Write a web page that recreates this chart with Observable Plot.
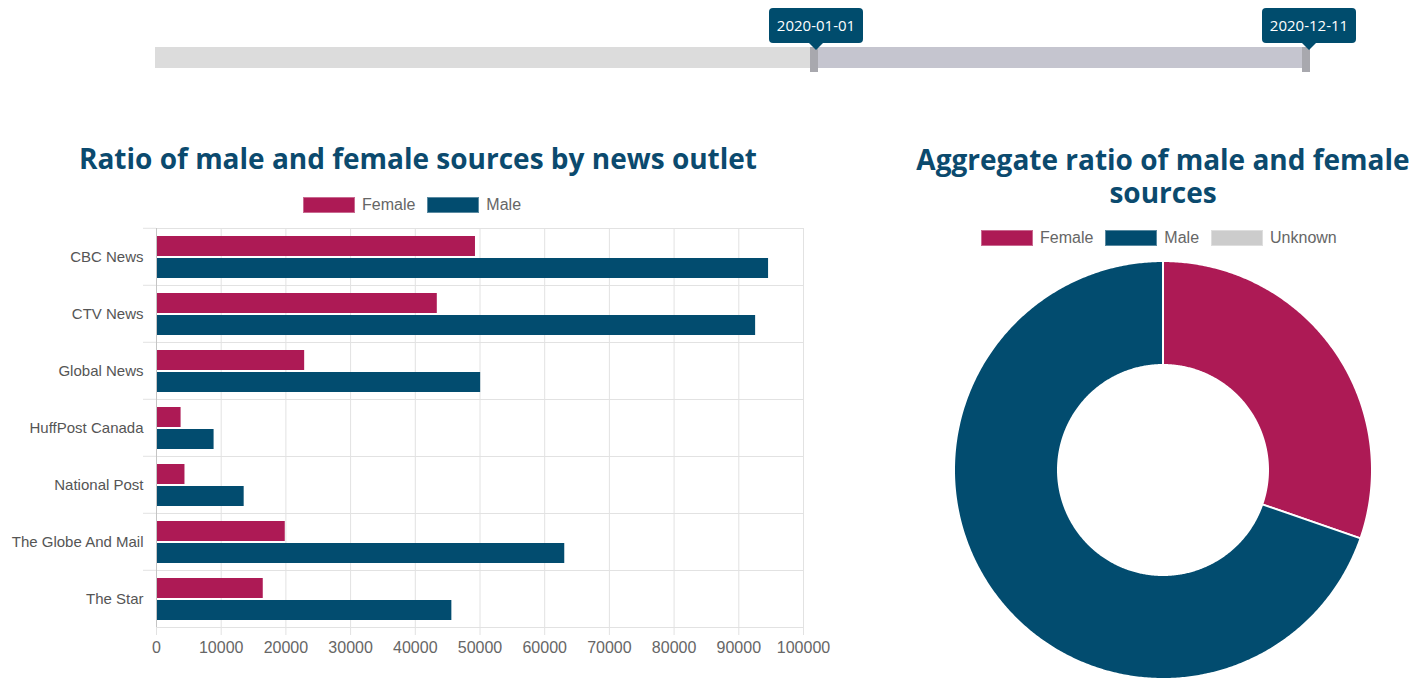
<!DOCTYPE html>
<html>
<head>
<meta charset="utf-8">
<script src="https://cdn.jsdelivr.net/npm/d3@7"></script>
<script src="https://cdn.jsdelivr.net/npm/@observablehq/plot@0.6"></script>
<style>
  html, body { margin: 0; padding: 0; }
  body { width: 1426px; height: 679px; overflow: hidden; background: #fff; position: relative;
         font-family: "Liberation Sans", Arial, sans-serif; }
  .abs { position: absolute; }
  .title { font-family: "Open Sans", sans-serif; font-weight: 700; color: #0b4a6e; text-align: center;
           font-size: 28px; line-height: 32px; white-space: nowrap; }
  .legend { display: flex; align-items: center; font-size: 16px; color: #666; white-space: nowrap; }
  .legend .sw { width: 50px; height: 14px; border: 1px solid rgba(255,255,255,0.35); box-sizing: content-box; margin-right: 7px; }
  .legend .lab { margin-right: 12px; }
  .track { background: #dcdcdc; }
  .sel { background: #c5c5cf; }
  .handle { background: #a8a8ae; }
  .tip { background: #004c6d; color: #fff; font-family: "Open Sans", sans-serif; font-size: 15px;
         border-radius: 4px; text-align: center; line-height: 35px; }
  .tip::after { content: ""; position: absolute; left: 50%; bottom: -7px; margin-left: -7px;
         border-left: 7px solid transparent; border-right: 7px solid transparent; border-top: 7px solid #004c6d; }
</style>
</head>
<body>
<div id="slider"></div>
<div id="barTitle" class="abs title" style="left:0;top:142px;width:836px;"></div>
<div id="barLegend" class="abs legend" style="left:303px;top:196px;"></div>
<div id="bar" class="abs" style="left:0;top:215px;"></div>
<div id="donutTitle1" class="abs title" style="left:863px;top:143px;width:600px;"></div>
<div id="donutTitle2" class="abs title" style="left:863px;top:176px;width:600px;"></div>
<div id="donutLegend" class="abs legend" style="left:981px;top:229px;"></div>
<div id="donut" class="abs" style="left:943px;top:250px;"></div>
<script>
// ---------- data ----------
const outlets = ["CBC News", "CTV News", "Global News", "HuffPost Canada", "National Post", "The Globe And Mail", "The Star"];
const femaleCounts = [49300, 43400, 22900, 3800, 4400, 19900, 16500];
const maleCounts   = [94600, 92600, 50100, 8900, 13550, 63100, 45650];
const genders = ["Female", "Male", "Unknown"];
const genderColors = ["#ad1a55", "#024c6f", "#cccccc"];
const xTicks = [0, 10000, 20000, 30000, 40000, 50000, 60000, 70000, 80000, 90000, 100000];
const dateRange = ["2020-01-01", "2020-12-11"];
const barTitle = "Ratio of male and female sources by news outlet";
const donutTitleLines = ["Aggregate ratio of male and female", "sources"];
const unknownTotal = 0;

// ---------- slider (date range) ----------
const slider = document.getElementById("slider");
slider.innerHTML = `
  <div class="abs track" style="left:155px;top:47px;width:1155px;height:21px;"></div>
  <div class="abs sel" style="left:813px;top:47px;width:493px;height:21px;"></div>
  <div class="abs handle" style="left:810px;top:47px;width:8px;height:25px;"></div>
  <div class="abs handle" style="left:1302px;top:47px;width:8px;height:25px;"></div>
  <div class="abs tip" style="left:769px;top:8px;width:94px;height:35px;">${dateRange[0]}</div>
  <div class="abs tip" style="left:1262px;top:8px;width:94px;height:35px;">${dateRange[1]}</div>`;

// ---------- titles & legends ----------
document.getElementById("barTitle").textContent = barTitle;
document.getElementById("donutTitle1").textContent = donutTitleLines[0];
document.getElementById("donutTitle2").textContent = donutTitleLines[1];
function legend(el, names) {
  el.innerHTML = names.map(n => {
    const c = genderColors[genders.indexOf(n)];
    return `<div class="sw" style="background:${c}"></div><div class="lab">${n}</div>`;
  }).join("");
}
legend(document.getElementById("barLegend"), ["Female", "Male"]);
legend(document.getElementById("donutLegend"), genders);

// ---------- bar chart ----------
const rows = outlets.flatMap((o, i) => [
  {outlet: o, gender: "Female", value: femaleCounts[i]},
  {outlet: o, gender: "Male", value: maleCounts[i]}
]);
const barH = 448, barMT = 11, barMB = 35;
const halfBand = (barH - barMT - barMB) / outlets.length / 2;
const bar = Plot.plot({
  width: 840, height: barH,
  marginLeft: 156, marginRight: 37, marginTop: barMT, marginBottom: barMB,
  style: {fontFamily: "Liberation Sans, Arial, sans-serif", fontSize: "15px", color: "#666", background: "transparent"},
  x: {domain: [0, 100000], label: null},
  fy: {domain: outlets, padding: 0, label: null},
  y: {domain: ["Female", "Male"], paddingInner: 0.1, paddingOuter: 0.3, axis: null},
  color: {domain: genders, range: genderColors},
  marks: [
    Plot.gridX(xTicks, {stroke: "#e2e2e2", strokeOpacity: 1}),
    Plot.frame({stroke: "#e2e2e2"}),
    Plot.barX(rows, {fy: "outlet", y: "gender", x: "value", fill: "gender"}),
    Plot.ruleX([0], {stroke: "#c4c4c4"}),
    Plot.axisX({ticks: xTicks, tickSize: 8, tickPadding: 6, tickFormat: d => String(d), stroke: "#e2e2e2", fill: "#666", fontSize: 16, label: null}),
    Plot.axisFy({anchor: "left", tickSize: 13, tickFormat: () => "", dy: -halfBand, stroke: "#e2e2e2", strokeOpacity: 1, label: null}),
    Plot.axisFy({anchor: "left", tickSize: 0, tickPadding: 13, fill: "#555", fontSize: 15, label: null})
  ]
});
document.getElementById("bar").appendChild(bar);

// ---------- donut chart ----------
const totals = [d3.sum(femaleCounts), d3.sum(maleCounts), unknownTotal];
const grand = d3.sum(totals);
const R = 209 / 220, r = 105 / 220;
const arcPts = [];
let acc = 0;
genders.forEach((g, i) => {
  const a0 = acc / grand * 2 * Math.PI;
  acc += totals[i];
  const a1 = acc / grand * 2 * Math.PI;
  if (a1 <= a0) return;
  const n = Math.max(2, Math.ceil((a1 - a0) / (Math.PI / 360)));
  for (let k = 0; k <= n; k++) {
    const t = a0 + (a1 - a0) * k / n;
    arcPts.push({gender: g, ox: R * Math.sin(t), oy: R * Math.cos(t), ix: r * Math.sin(t), iy: r * Math.cos(t)});
  }
});
const donut = Plot.plot({
  width: 440, height: 440, margin: 0,
  style: {background: "transparent"},
  x: {domain: [-1, 1], axis: null},
  y: {domain: [-1, 1], axis: null},
  color: {domain: genders, range: genderColors},
  marks: [
    Plot.area(arcPts, {x1: "ix", y1: "iy", x2: "ox", y2: "oy", z: "gender", fill: "gender", stroke: "#fff", strokeWidth: 2})
  ]
});
document.getElementById("donut").appendChild(donut);
</script>
</body>
</html>
